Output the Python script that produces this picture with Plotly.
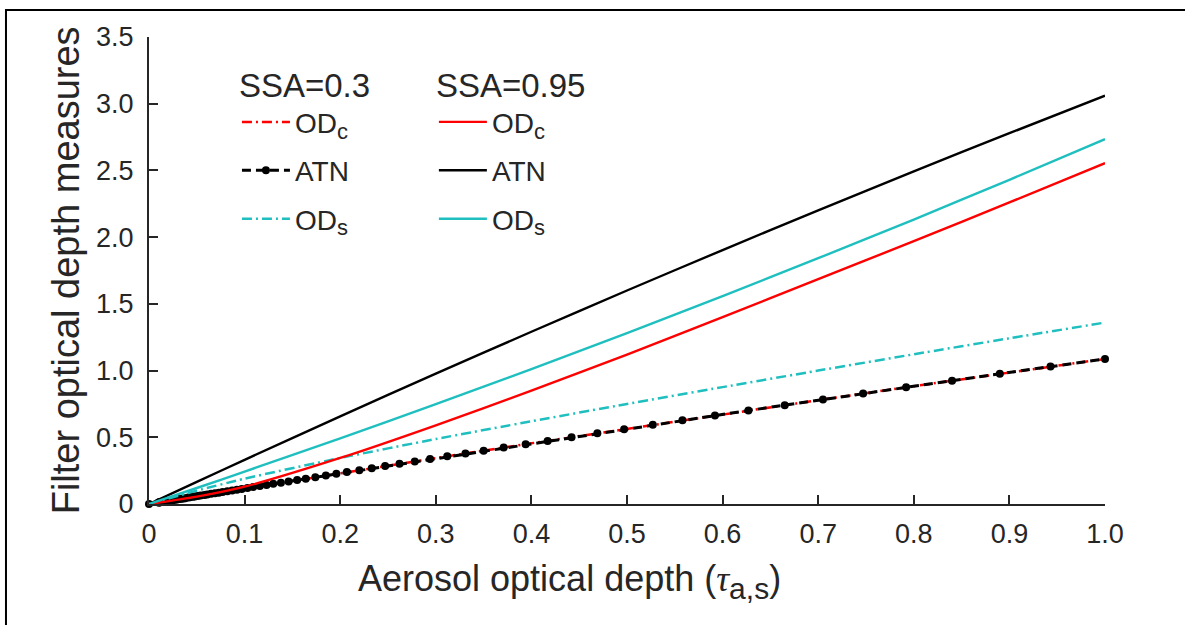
import plotly.graph_objects as go

# ---------------- data ----------------
x_line = [0, 0.05, 0.1, 0.2, 0.3, 0.4, 0.5, 0.6, 0.7, 0.8, 0.9, 1.0]

# SSA = 0.95
atn_095 = [0, 0.166, 0.331, 0.657, 0.977, 1.291, 1.600, 1.903, 2.201, 2.493, 2.779, 3.060]
ods_095 = [0, 0.120, 0.243, 0.492, 0.748, 1.011, 1.281, 1.558, 1.842, 2.132, 2.430, 2.734]
odc_095 = [0, 0.055, 0.130, 0.345, 0.590, 0.850, 1.120, 1.400, 1.685, 1.970, 2.260, 2.555]

# SSA = 0.3
ods_03 = [0, 0.100, 0.190, 0.345, 0.487, 0.620, 0.750, 0.876, 1.000, 1.122, 1.242, 1.360]
odc_03 = [0, 0.058, 0.116, 0.231, 0.344, 0.455, 0.564, 0.672, 0.778, 0.883, 0.986, 1.087]

# ATN (SSA = 0.3) sample points (dots)
x_atn = [0, 0.010, 0.0106, 0.011, 0.012, 0.013, 0.014, 0.015, 0.016, 0.017, 0.018, 0.019,
         0.020, 0.021, 0.023, 0.024, 0.025, 0.027, 0.029, 0.030, 0.032, 0.034, 0.036,
         0.038, 0.041, 0.043, 0.046, 0.048, 0.051, 0.054, 0.058, 0.061, 0.065, 0.069,
         0.073, 0.077, 0.082, 0.087, 0.092, 0.097, 0.103, 0.109, 0.116, 0.123, 0.130,
         0.138, 0.146, 0.155, 0.164, 0.174, 0.185, 0.196, 0.207, 0.220, 0.233, 0.247,
         0.262, 0.278, 0.294, 0.312, 0.331, 0.350, 0.371, 0.394, 0.417, 0.442, 0.469,
         0.497, 0.527, 0.558, 0.592, 0.627, 0.665, 0.705, 0.747, 0.792, 0.840, 0.890,
         0.943, 1.000]
atn_03 = [0, 0.012, 0.012, 0.013, 0.014, 0.015, 0.016, 0.018, 0.019, 0.020, 0.021, 0.022,
          0.023, 0.025, 0.027, 0.028, 0.029, 0.032, 0.034, 0.035, 0.037, 0.040, 0.042,
          0.044, 0.048, 0.050, 0.054, 0.056, 0.060, 0.063, 0.068, 0.071, 0.076, 0.080,
          0.085, 0.090, 0.095, 0.101, 0.107, 0.113, 0.120, 0.127, 0.135, 0.143, 0.151,
          0.160, 0.169, 0.179, 0.190, 0.201, 0.214, 0.226, 0.239, 0.253, 0.268, 0.284,
          0.301, 0.319, 0.337, 0.357, 0.378, 0.399, 0.423, 0.448, 0.473, 0.501, 0.530,
          0.561, 0.594, 0.627, 0.664, 0.701, 0.741, 0.784, 0.828, 0.875, 0.924, 0.976,
          1.030, 1.087]

x_ticks = [0, 0.1, 0.2, 0.3, 0.4, 0.5, 0.6, 0.7, 0.8, 0.9, 1.0]
x_tick_labels = ["0", "0.1", "0.2", "0.3", "0.4", "0.5", "0.6", "0.7", "0.8", "0.9", "1.0"]
y_ticks = [0, 0.5, 1.0, 1.5, 2.0, 2.5, 3.0, 3.5]
y_tick_labels = ["0", "0.5", "1.0", "1.5", "2.0", "2.5", "3.0", "3.5"]

# ---------------- style ----------------
RED = "#ff0000"
BLACK = "#000000"
CYAN = "#1fbfbf"
TXT = "#262626"
FONT = "Liberation Sans, Arial, sans-serif"
DASHDOT = "10px,4px,2px,4px"
DASH = "9px,5px"


def sub(s):
    return '<sub><span style="font-size:22px">' + s + '</span></sub>'


fig = go.Figure()

# SSA = 0.3 group (legend)
fig.add_trace(go.Scatter(x=x_line, y=odc_03, mode="lines", name="OD" + sub("c"),
                         line=dict(color=RED, width=2.5, dash=DASHDOT),
                         legend="legend", legendgroup="a1"))
fig.add_trace(go.Scatter(x=x_atn, y=atn_03, mode="lines+markers", name="ATN",
                         line=dict(color=BLACK, width=3, dash=DASH),
                         marker=dict(color=BLACK, size=8),
                         cliponaxis=False, legend="legend", legendgroup="a2"))
fig.add_trace(go.Scatter(x=x_line, y=ods_03, mode="lines", name="OD" + sub("s"),
                         line=dict(color=CYAN, width=2.5, dash=DASHDOT, shape="spline", smoothing=0.6),
                         legend="legend", legendgroup="a3"))

# SSA = 0.95 group (legend2)
fig.add_trace(go.Scatter(x=x_line, y=odc_095, mode="lines", name="OD" + sub("c"),
                         line=dict(color=RED, width=2.4, shape="spline", smoothing=0.8),
                         legend="legend2", legendgroup="b1"))
fig.add_trace(go.Scatter(x=x_line, y=atn_095, mode="lines", name="ATN",
                         line=dict(color=BLACK, width=2.4, shape="spline", smoothing=0.6),
                         legend="legend2", legendgroup="b2"))
fig.add_trace(go.Scatter(x=x_line, y=ods_095, mode="lines", name="OD" + sub("s"),
                         line=dict(color=CYAN, width=2.4, shape="spline", smoothing=0.6),
                         legend="legend2", legendgroup="b3"))

axis_common = dict(
    showline=True, linewidth=2, linecolor=TXT,
    ticks="inside", ticklen=9, tickwidth=2, tickcolor=TXT,
    showgrid=False, zeroline=False, mirror=False,
    tickfont=dict(family=FONT, size=27, color=TXT),
)

leg_common = dict(
    bgcolor="rgba(0,0,0,0)", borderwidth=0,
    font=dict(family=FONT, size=28, color=TXT),
    title_font=dict(family=FONT, size=33, color=TXT),
    tracegroupgap=9, xanchor="left", yanchor="top",
    itemwidth=48,
)

fig.update_layout(
    width=1185, height=625,
    margin=dict(l=149, r=80, t=37, b=121),
    paper_bgcolor="white", plot_bgcolor="white",
    font=dict(family=FONT, color=TXT),
    xaxis=dict(range=[0, 1.0], tickvals=x_ticks, ticktext=x_tick_labels,
               ticklabelstandoff=5, **axis_common),
    yaxis=dict(range=[0, 3.5], tickvals=y_ticks, ticktext=y_tick_labels,
               ticklabelstandoff=8, **axis_common),
    legend=dict(x=0.092, y=0.963, title_text="SSA=0.3", **leg_common),
    legend2=dict(x=0.298, y=0.963, title_text="SSA=0.95", **leg_common),
    showlegend=True,
)

# axis titles as annotations
fig.add_annotation(
    text="Aerosol optical depth (<i><span style=\"font-family:Liberation Serif\">τ</span></i>"
         "<sub><span style=\"font-size:30px\">a,s</span></sub>)",
    xref="paper", yref="paper", x=0.44, y=-0.165, xanchor="center", yanchor="middle",
    showarrow=False, font=dict(family=FONT, size=36, color=TXT))
fig.add_annotation(
    text="Filter optical depth measures",
    xref="paper", yref="paper", x=-0.087, y=0.5, xanchor="center", yanchor="middle",
    textangle=-90, showarrow=False, font=dict(family=FONT, size=38, color=TXT))

# outer frame
fig.add_shape(type="rect", xref="paper", yref="paper",
              x0=-0.1496, x1=1.3, y0=-0.6, y1=1.0578,
              line=dict(color="black", width=2), fillcolor="rgba(0,0,0,0)", layer="below")

fig.write_html("out.html")
